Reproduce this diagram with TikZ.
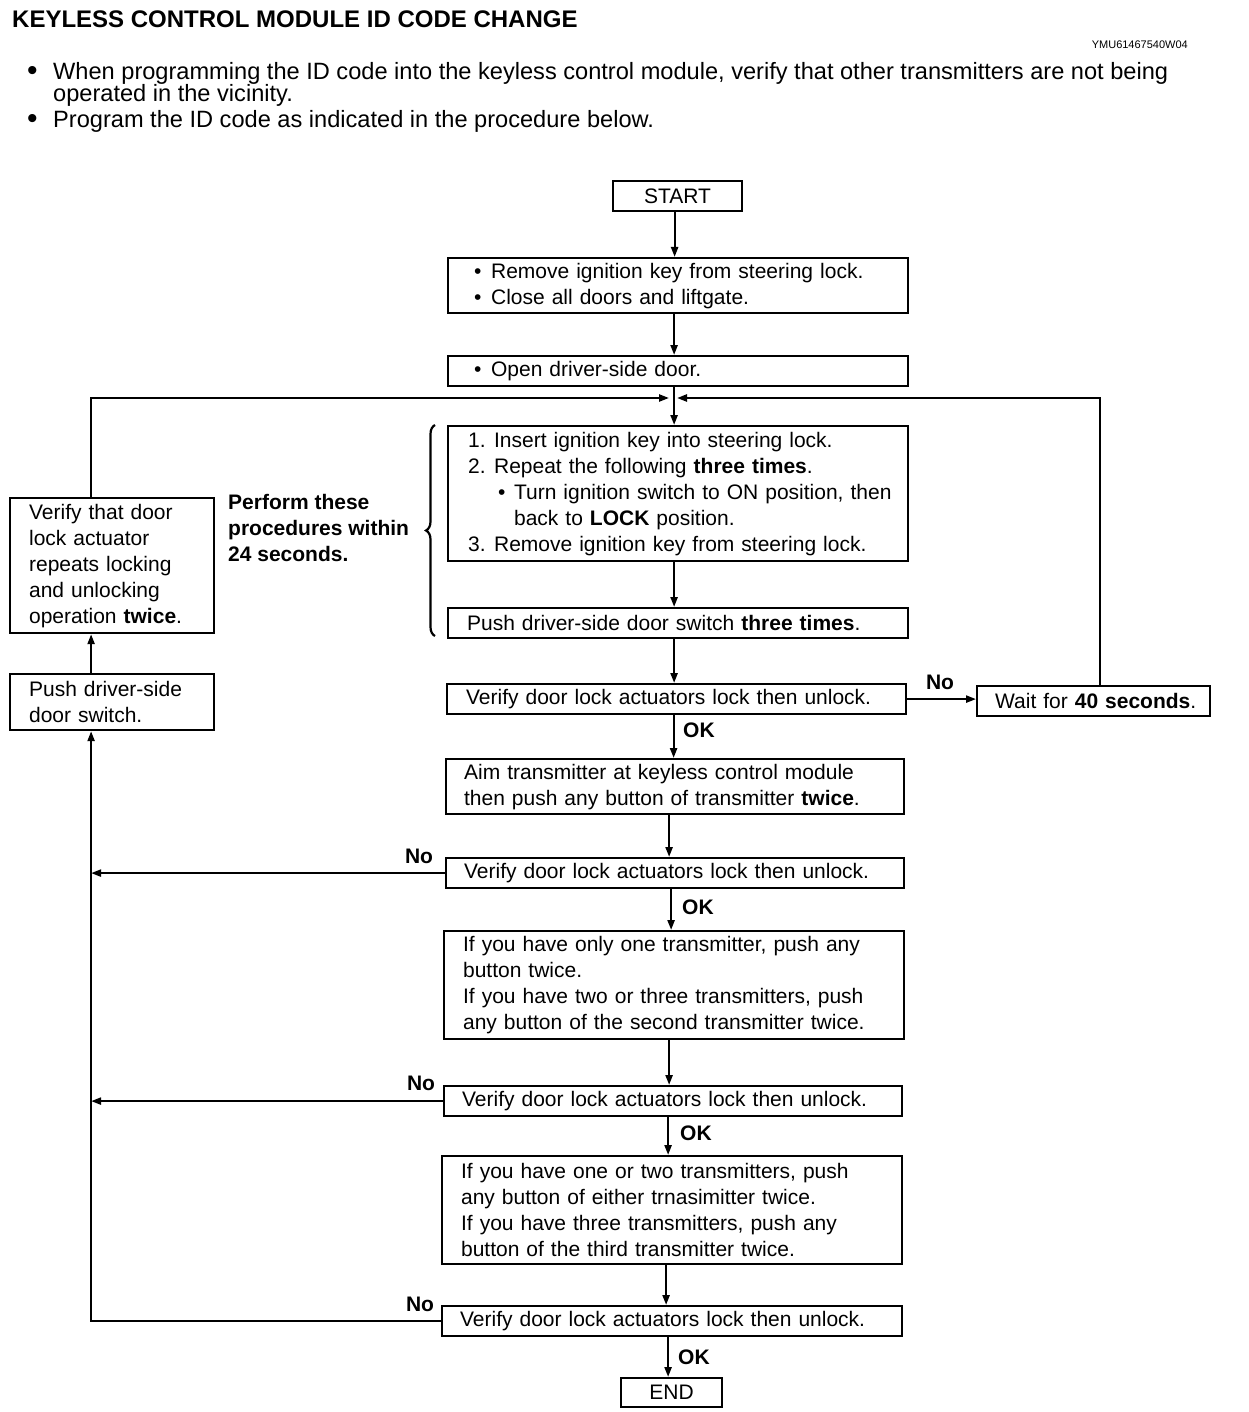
\documentclass[tikz,border=0pt]{standalone}
\usepackage{fontspec}
\setmainfont{Liberation Sans}
\usetikzlibrary{arrows.meta,decorations.pathreplacing}
\newcommand\hbul{{\fontsize{30}{22}\selectfont\raisebox{-1pt}{•}}}
\begin{document}
\begin{tikzpicture}[x=1pt,y=-1pt,
  every node/.style={font=\fontsize{21}{26}\selectfont},
  box/.style={draw, line width=2.2pt, inner ysep=0pt, align=left, anchor=north west},
  lbl/.style={font=\fontsize{21}{26}\selectfont\bfseries, inner sep=0pt},
  arr/.style={line width=2.2pt, -{Triangle[length=10pt,width=7pt]}},
  ln/.style={line width=2.2pt}]
\useasboundingbox (0,0) rectangle (1248,1412);
% header
\node[anchor=base west, inner sep=0pt, font=\fontsize{24}{28}\selectfont\bfseries] (title) at (12,28) {KEYLESS CONTROL MODULE ID CODE CHANGE};
\node[anchor=base east, inner sep=0pt, font=\fontsize{11}{12}\selectfont] (code) at (1188,49) {YMU61467540W04};
\node[anchor=base west, inner sep=0pt, font=\fontsize{23.6}{24}\selectfont] (h1) at (27,80) {\makebox[26pt][l]{\hbul}When programming the ID code into the keyless control module, verify that other transmitters are not being};
\node[anchor=base west, inner sep=0pt, font=\fontsize{23.6}{24}\selectfont] (h2) at (53,102) {operated in the vicinity.};
\node[anchor=base west, inner sep=0pt, font=\fontsize{23.6}{24}\selectfont] (h3) at (27,128) {\makebox[26pt][l]{\hbul}Program the ID code as indicated in the procedure below.};
% boxes
\node[box, minimum width=129pt, minimum height=30pt, align=center, inner xsep=0pt] (start) at (612,180) {START};
\node[box, minimum height=55pt, inner xsep=26pt, text width=408pt] (b1) at (447,257) {\makebox[17pt][l]{•}Remove ignition key from steering lock.\\\makebox[17pt][l]{•}Close all doors and liftgate.};
\node[box, minimum height=30pt, inner xsep=26pt, text width=408pt] (b2) at (447,355) {\makebox[17pt][l]{•}Open driver-side door.};
\node[box, minimum height=135pt, inner xsep=20pt, text width=420pt] (b3) at (447,425) {\makebox[26pt][l]{1.}Insert ignition key into steering lock.\\
\makebox[26pt][l]{2.}Repeat the following \textbf{three times}.\\
\mbox{\hspace*{30pt}\makebox[16pt][l]{•}Turn ignition switch to ON position, then}\\
\hspace*{46pt}back to \textbf{LOCK} position.\\
\makebox[26pt][l]{3.}Remove ignition key from steering lock.};
\node[box, minimum height=30pt, inner xsep=19pt, text width=422pt] (b4) at (447,607) {Push driver-side door switch \textbf{three times}.};
\node[box, minimum height=30pt, inner xsep=19pt, text width=421pt] (b5) at (446,683) {Verify door lock actuators lock then unlock.};
\node[box, minimum height=30pt, inner xsep=18pt, text width=197pt] (wait) at (976,685) {\mbox{Wait for \textbf{40 seconds}.}};
\node[box, minimum height=55pt, inner xsep=18pt, text width=422pt] (b6) at (445,758) {Aim transmitter at keyless control module\\then push any button of transmitter \textbf{twice}.};
\node[box, minimum height=30pt, inner xsep=18pt, text width=422pt] (b7) at (445,857) {Verify door lock actuators lock then unlock.};
\node[box, minimum height=108pt, inner xsep=19pt, text width=422pt] (b8) at (443,930) {If you have only one transmitter, push any\\button twice.\\If you have two or three transmitters, push\\any button of the second transmitter twice.};
\node[box, minimum height=30pt, inner xsep=18pt, text width=422pt] (b9) at (443,1085) {Verify door lock actuators lock then unlock.};
\node[box, minimum height=108pt, inner xsep=19pt, text width=422pt] (b10) at (441,1155) {If you have one or two transmitters, push\\any button of either trnasimitter twice.\\If you have three transmitters, push any\\button of the third transmitter twice.};
\node[box, minimum height=30pt, inner xsep=18pt, text width=424pt] (b11) at (441,1305) {Verify door lock actuators lock then unlock.};
\node[box, minimum width=101pt, minimum height=29pt, align=center, inner xsep=0pt] (end) at (620,1377) {END};
\node[box, minimum height=135pt, inner xsep=19pt, text width=166pt] (v1) at (9,497) {Verify that door\\lock actuator\\repeats locking\\and unlocking\\operation \textbf{twice}.};
\node[box, minimum height=56pt, inner xsep=19pt, text width=166pt] (p) at (9,673) {Push driver-side\\door switch.};
\node[anchor=north west, inner sep=0pt, align=left, font=\fontsize{21}{26}\selectfont\bfseries] (perf) at (228,494) {Perform these\\procedures within\\24 seconds.};
% labels
\node[lbl, anchor=west] (ok1) at (683,730) {OK};
\node[lbl, anchor=west] (ok2) at (682,907) {OK};
\node[lbl, anchor=west] (ok3) at (680,1133) {OK};
\node[lbl, anchor=west] (ok4) at (678,1357) {OK};
\node[lbl] (no0) at (940,682) {No};
\node[lbl] (no1) at (419,856) {No};
\node[lbl] (no2) at (421,1083) {No};
\node[lbl] (no3) at (420,1304) {No};
% coordinates
\coordinate (j) at (673,398);
\coordinate (lft) at ([xshift=-21pt]p.south);
% main flow
\draw[arr] ([xshift=-3pt]start.south) -- ([xshift=-3pt]start.south |- b1.north);
\draw[arr] ([xshift=-4pt]b1.south) -- ([xshift=-4pt]b1.south |- b2.north);
\draw[arr] ([xshift=-4pt]b2.south) -- ([xshift=-4pt]b2.south |- b3.north);
\draw[arr] ([xshift=-4pt]b3.south) -- ([xshift=-4pt]b3.south |- b4.north);
\draw[arr] ([xshift=-4pt]b4.south) -- ([xshift=-4pt]b4.south |- b5.north);
\draw[arr] ([xshift=-3pt]b5.south) -- ([xshift=-3pt]b5.south |- b6.north);
\draw[arr] ([xshift=-6pt]b6.south) -- ([xshift=-6pt]b6.south |- b7.north);
\draw[arr] ([xshift=-4pt]b7.south) -- ([xshift=-4pt]b7.south |- b8.north);
\draw[arr] ([xshift=-5pt]b8.south) -- ([xshift=-5pt]b8.south |- b9.north);
\draw[arr] ([xshift=-5pt]b9.south) -- ([xshift=-5pt]b9.south |- b10.north);
\draw[arr] ([xshift=-6pt]b10.south) -- ([xshift=-6pt]b10.south |- b11.north);
\draw[arr] ([xshift=-4pt]b11.south) -- ([xshift=-4pt]b11.south |- end.north);
\draw[arr] (b5.east) -- (b5.east -| wait.west);
% loops
\draw[arr, shorten >=4pt] ([xshift=6pt]wait.north) |- (j);
\draw[arr, shorten >=4pt] (lft |- v1.north) |- (j);
\draw[arr] (lft |- p.north) -- (lft |- v1.south);
\draw[arr] (b7.west) -- (b7.west -| lft);
\draw[arr] (b9.west) -- (b9.west -| lft);
\draw[arr] (b11.west) -| (lft);
% brace
\draw[ln, decorate, decoration={brace, amplitude=9pt}] (435,636) -- (435,425);
\end{tikzpicture}
\end{document}
